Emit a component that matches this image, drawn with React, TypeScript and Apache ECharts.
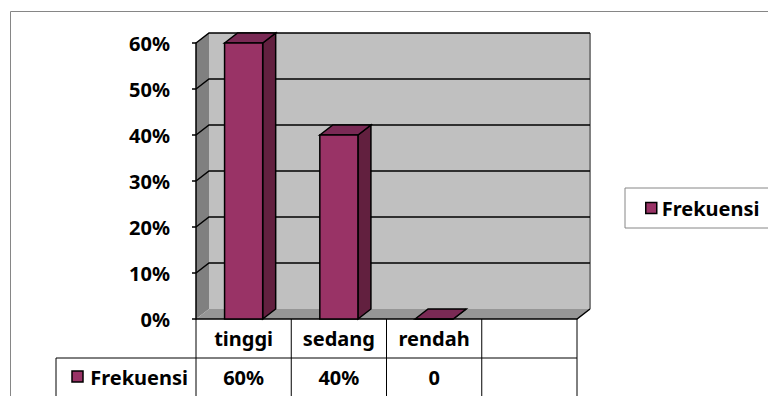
import React, { useEffect, useRef } from "react";
import * as echarts from "echarts";

const categories = ["tinggi", "sedang", "rendah", ""];
const frekuensi: (number | null)[] = [60, 40, 0, null];
const tableLabels = ["60%", "40%", "0", ""];
const yTicks = [0, 10, 20, 30, 40, 50, 60];
const seriesName = "Frekuensi";

const DX = 13;
const DY = 10;
const FONT = "'Noto Sans', sans-serif";
const PLUM = "#993366";
const PLUM_SIDE = "#62203F";
const PLUM_TOP = "#7A2A55";

export default function App() {
  const ref = useRef<HTMLDivElement>(null);

  useEffect(() => {
    if (!ref.current) return;
    const chart = echarts.init(ref.current, null, { renderer: "svg" });

    const barData = frekuensi
      .map((v, i) => (v == null ? null : [i, v]))
      .filter((d) => d != null);

    const option: any = {
      animation: false,
      backgroundColor: "#ffffff",
      textStyle: { fontFamily: FONT },
      graphic: [
        {
          type: "rect",
          shape: { x: 10.5, y: 11.5, width: 800, height: 420 },
          style: { fill: "none", stroke: "#868686", lineWidth: 1 },
          z: -10,
          silent: true,
        },
      ],
      grid: { left: 196, top: 43, width: 381, height: 276, containLabel: false },
      legend: {
        data: [
          {
            name: seriesName,
            itemStyle: { color: PLUM, borderColor: "#000", borderWidth: 1.5 },
          },
        ],
        left: 625,
        top: 188,
        padding: [10, 20, 10, 20],
        borderColor: "#868686",
        borderWidth: 1,
        icon: "rect",
        itemWidth: 11,
        itemHeight: 11,
        itemGap: 5,
        textStyle: { fontFamily: FONT, fontWeight: "bold", fontSize: 20, color: "#000" },
      },
      xAxis: {
        type: "category",
        data: categories,
        axisLine: { show: false },
        axisTick: { show: false },
        splitLine: { show: false },
        axisLabel: {
          interval: 0,
          margin: 9,
          fontFamily: FONT,
          fontWeight: "bold",
          fontSize: 20,
          color: "#000",
        },
        z: 5,
      },
      yAxis: {
        type: "value",
        min: 0,
        max: 60,
        interval: 10,
        axisLine: { show: true, lineStyle: { color: "#000", width: 1.5 } },
        axisTick: { show: true, length: 4, lineStyle: { color: "#000", width: 1.5 } },
        splitLine: { show: false },
        axisLabel: {
          formatter: "{value}%",
          margin: 26,
          fontFamily: FONT,
          fontWeight: "bold",
          fontSize: 20,
          color: "#000",
        },
        z: 5,
      },
      series: [
        {
          name: "walls",
          type: "custom",
          silent: true,
          z: 0,
          data: [[0, 0]],
          renderItem: (params: any, api: any) => {
            const cs = params.coordSys;
            const x0 = cs.x;
            const x1 = cs.x + cs.width;
            const yT = cs.y;
            const yB = cs.y + cs.height;
            const band = api.size([1, 0])[0];
            const children: any[] = [];
            children.push({
              type: "polygon",
              shape: { points: [[x0, yB], [x0, yT], [x0 + DX, yT - DY], [x0 + DX, yB - DY]] },
              style: { fill: "#808080" },
            });
            children.push({
              type: "rect",
              shape: { x: x0 + DX, y: yT - DY, width: cs.width, height: cs.height },
              style: { fill: "#C0C0C0" },
            });
            children.push({
              type: "line",
              shape: { x1: x1 + DX, y1: yT - DY, x2: x1 + DX, y2: yB - DY },
              style: { stroke: "#808080", lineWidth: 2 },
            });
            children.push({
              type: "polygon",
              shape: { points: [[x0, yB], [x1, yB], [x1 + DX, yB - DY], [x0 + DX, yB - DY]] },
              style: { fill: "#969696" },
            });
            yTicks.forEach((v) => {
              if (v === 0) return;
              const y = api.coord([0, v])[1];
              children.push({
                type: "polyline",
                shape: { points: [[x0, y], [x0 + DX, y - DY], [x1 + DX, y - DY]] },
                style: { stroke: "#000", lineWidth: 1.5, fill: "none" },
              });
            });
            children.push({
              type: "polyline",
              shape: { points: [[x0, yB], [x1, yB], [x1 + DX, yB - DY]] },
              style: { stroke: "#000", lineWidth: 1.5, fill: "none" },
            });
            // data table grid
            const rowY = yB + 39;
            const bottom = yB + 120;
            for (let k = 0; k <= categories.length; k++) {
              const x = x0 + k * band;
              children.push({
                type: "line",
                shape: { x1: x, y1: yB, x2: x, y2: bottom },
                style: { stroke: "#000", lineWidth: 1 },
              });
            }
            const keyLeft = x0 - 140;
            children.push({
              type: "line",
              shape: { x1: keyLeft, y1: rowY, x2: x1, y2: rowY },
              style: { stroke: "#000", lineWidth: 1 },
            });
            children.push({
              type: "line",
              shape: { x1: keyLeft, y1: rowY, x2: keyLeft, y2: bottom },
              style: { stroke: "#000", lineWidth: 1 },
            });
            children.push({
              type: "rect",
              shape: { x: x0 - 124, y: rowY + 13, width: 11, height: 11 },
              style: { fill: PLUM, stroke: "#000", lineWidth: 1.5 },
            });
            children.push({
              type: "text",
              style: {
                x: x0 - 8,
                y: rowY + 19,
                text: seriesName,
                align: "right",
                verticalAlign: "middle",
                fontFamily: FONT,
                fontWeight: "bold",
                fontSize: 20,
                fill: "#000",
              },
            });
            return { type: "group", children };
          },
        },
        {
          name: seriesName,
          type: "custom",
          z: 3,
          itemStyle: { color: PLUM },
          data: barData,
          renderItem: (params: any, api: any) => {
            const i = api.value(0);
            const v = api.value(1);
            const top = api.coord([i, v]);
            const base = api.coord([i, 0]);
            const band = api.size([1, 0])[0];
            const w = band * 0.4;
            const xl = top[0] - w / 2;
            const xr = top[0] + w / 2;
            const yt = top[1];
            const yb = base[1];
            const stroke = { stroke: "#000", lineWidth: 1.5 };
            return {
              type: "group",
              children: [
                {
                  type: "polygon",
                  shape: { points: [[xr, yt], [xr + DX, yt - DY], [xr + DX, yb - DY], [xr, yb]] },
                  style: { fill: PLUM_SIDE, ...stroke },
                },
                {
                  type: "polygon",
                  shape: { points: [[xl, yt], [xl + DX, yt - DY], [xr + DX, yt - DY], [xr, yt]] },
                  style: { fill: PLUM_TOP, ...stroke },
                },
                {
                  type: "rect",
                  shape: { x: xl, y: yt, width: w, height: yb - yt },
                  style: { fill: PLUM, ...stroke },
                },
              ],
            };
          },
        },
        {
          name: "table",
          type: "custom",
          silent: true,
          z: 4,
          data: categories.map((c, i) => [i, 0]),
          renderItem: (params: any, api: any) => {
            const i = api.value(0);
            const p = api.coord([i, 0]);
            return {
              type: "text",
              style: {
                x: p[0],
                y: p[1] + 58,
                text: tableLabels[i],
                align: "center",
                verticalAlign: "middle",
                fontFamily: FONT,
                fontWeight: "bold",
                fontSize: 20,
                fill: "#000",
              },
            };
          },
        },
      ],
    };

    chart.setOption(option);
    return () => chart.dispose();
  }, []);

  return (
    <div
      ref={ref}
      style={{ position: "fixed", left: 0, top: 0, width: 768, height: 396 }}
    />
  );
}
